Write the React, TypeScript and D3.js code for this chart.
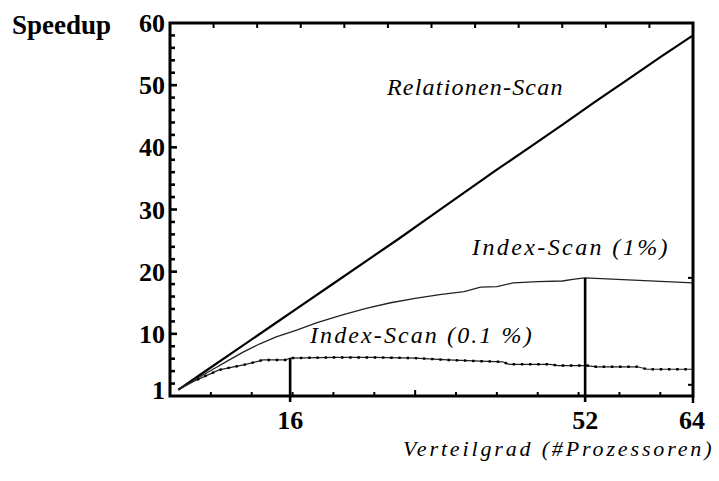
import React from 'react';
import * as d3 from 'd3';

// speedup curves: [processors, speedup]
const relationenScan: [number, number][] = [
  [1, 1], [4, 3.7], [8, 7.3], [12, 10.9], [16, 14.5], [20, 18.1], [24, 21.7],
  [28, 25.3], [32, 29.0], [36, 32.7], [40, 36.4], [44, 40.0], [48, 43.6],
  [52, 47.3], [56, 50.9], [60, 54.5], [64, 58.0]
];
const indexScan1: [number, number][] = [
  [1, 1], [3, 2.6], [5, 4.1], [7, 5.6], [9, 7.1], [11, 8.4], [13, 9.5],
  [15.5, 10.6], [18, 11.8], [21, 13.0], [24, 14.1], [27, 15.0], [30, 15.7],
  [33, 16.3], [36, 16.8], [38, 17.5], [40, 17.6], [42, 18.2], [45, 18.4],
  [48, 18.5], [49.5, 18.8], [50.8, 19.0], [64, 18.2]
];
const indexScan01: [number, number][] = [
  [1, 1], [3.3, 2.6], [6, 4.2], [9, 5.0], [11.4, 5.8], [14.1, 5.8], [14.7, 6.1],
  [20, 6.2], [25, 6.2], [30, 6.1], [34, 5.8], [38, 5.6], [40.7, 5.5],
  [41.5, 5.1], [46.5, 5.1], [47.5, 4.9], [51, 4.9], [52.2, 4.7], [57.2, 4.7],
  [58.4, 4.3], [64, 4.3]
];

// vertical markers (position as drawn, label as printed)
const markerX = [14.7, 50.8];
const markerTop = [6.1, 19.0];
const markerLabels = ['16', '52'];
const lastXLabel = '64';

const yTickLabels = ['1', '10', '20', '30', '40', '50', '60'];
const yTickValues = [1, 10, 20, 30, 40, 50, 60];
const rightTicks = [19, 1.8];

const W = 719;
const H = 481;
const left = 170, right = 693, top = 23, bottom = 396;

export default function App() {
  const x = d3.scaleLinear().domain([0, 64]).range([left, right]);
  const y = d3.scaleLinear().domain([0, 60]).range([bottom, top]);
  const line = d3.line<[number, number]>().x(d => x(d[0])).y(d => y(d[1]));

  const leftTicks = d3.range(2, 60, 2);
  const bottomTicks = d3.range(5, 64, 5);
  const topTicks = d3.range(1, 12).map(i => (i * 64) / 12);

  const serif = '"Liberation Serif", "Times New Roman", serif';

  return (
    <svg width={W} height={H} style={{ position: 'absolute', left: 0, top: 0, background: '#fff' }}>
      {/* curves */}
      <path d={line(relationenScan)!} fill="none" stroke="#000" strokeWidth={2.2} />
      <path d={line(indexScan1)!} fill="none" stroke="#222" strokeWidth={1.3} />
      <path d={line(indexScan01)!} fill="none" stroke="#222" strokeWidth={1.2} />
      <path d={line(indexScan01.slice(1))!} fill="none" stroke="#000" strokeWidth={2.4}
        strokeDasharray="2.5 5.7" />

      {/* markers */}
      {markerX.map((m, i) => (
        <line key={'m' + i} x1={x(m)} x2={x(m)} y1={y(markerTop[i])} y2={bottom + 6}
          stroke="#000" strokeWidth={2.6} />
      ))}

      {/* frame */}
      <rect x={left} y={top} width={right - left} height={bottom - top} fill="none"
        stroke="#000" strokeWidth={3} />
      <line x1={right} x2={right} y1={bottom} y2={bottom + 7} stroke="#000" strokeWidth={2.5} />

      {/* ticks */}
      {leftTicks.map(t => (
        <line key={'l' + t} x1={left} x2={left + (t % 10 === 0 ? 7 : 5)} y1={y(t)} y2={y(t)}
          stroke="#000" strokeWidth={2.6} />
      ))}
      {bottomTicks.map(t => (
        <line key={'b' + t} x1={x(t)} x2={x(t)} y1={bottom} y2={bottom - (t === 30 ? 6 : 4)}
          stroke="#000" strokeWidth={2} />
      ))}
      {topTicks.map(t => (
        <line key={'t' + t} x1={x(t)} x2={x(t)} y1={top} y2={top + 5}
          stroke="#000" strokeWidth={2} />
      ))}
      {rightTicks.map(t => (
        <line key={'r' + t} x1={right} x2={right - 5} y1={y(t)} y2={y(t)}
          stroke="#000" strokeWidth={2} />
      ))}

      {/* y labels */}
      {yTickValues.map((v, i) => (
        <text key={'yl' + v} x={165} y={y(v)} dy="0.35em" textAnchor="end"
          fontFamily={serif} fontWeight="bold" fontSize={26}>{yTickLabels[i]}</text>
      ))}
      <text x={12} y={34} fontFamily={serif} fontWeight="bold" fontSize={27}>Speedup</text>

      {/* x labels */}
      {markerX.map((m, i) => (
        <text key={'xl' + i} x={x(m)} y={429} textAnchor="middle" fontFamily={serif}
          fontWeight="bold" fontSize={26}>{markerLabels[i]}</text>
      ))}
      <text x={x(64) - 1} y={429} textAnchor="middle" fontFamily={serif} fontWeight="bold"
        fontSize={26}>{lastXLabel}</text>

      {/* series labels */}
      <g fontFamily={serif} fontStyle="italic" fontSize={24}>
        <text x={387} y={95} letterSpacing={1.2}>Relationen-Scan</text>
        <text x={472} y={255} letterSpacing={2.4}>Index-Scan (1%)</text>
        <text x={310} y={343} letterSpacing={2.1}>Index-Scan (0.1 %)</text>
        <text x={403} y={456} fontSize={22} letterSpacing={2.85}>Verteilgrad (#Prozessoren)</text>
      </g>
    </svg>
  );
}
